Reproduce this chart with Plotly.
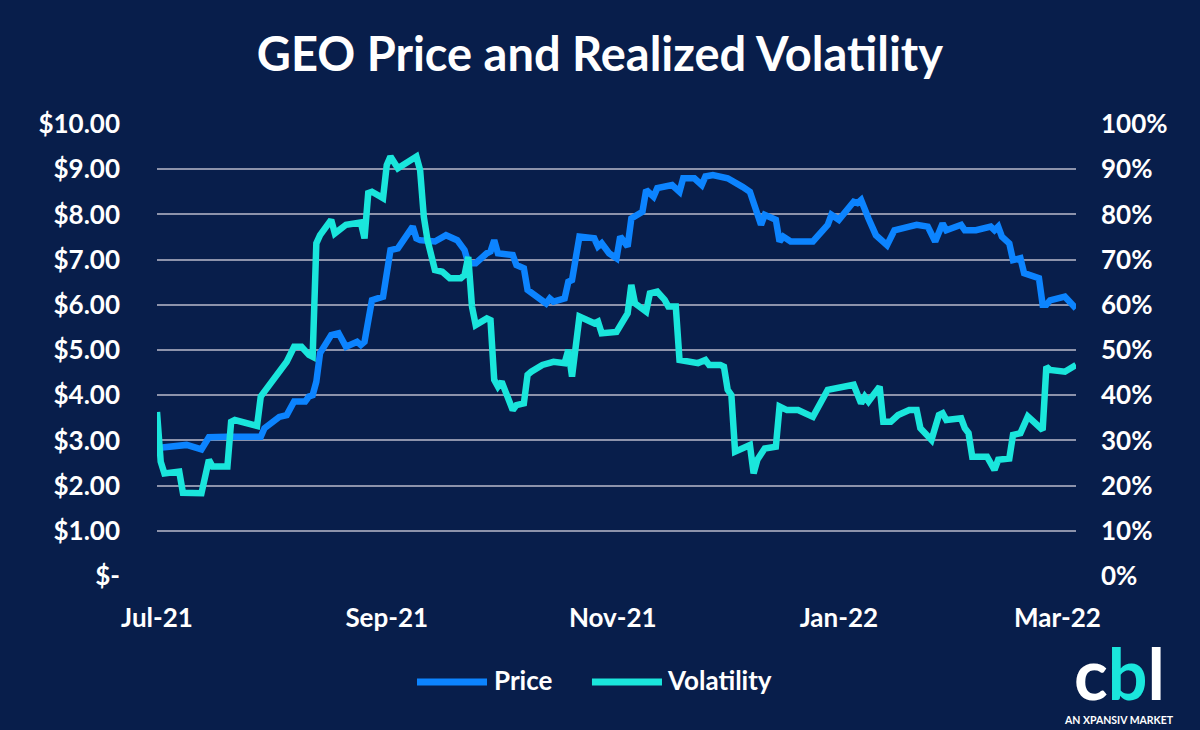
import plotly.graph_objects as go

price_dates = [
    "2021-07-01", "2021-07-09", "2021-07-13", "2021-07-15", "2021-07-20", "2021-07-29", "2021-07-30",
    "2021-08-03", "2021-08-05", "2021-08-07", "2021-08-10", "2021-08-11", "2021-08-12", "2021-08-13",
    "2021-08-14", "2021-08-17", "2021-08-19", "2021-08-21", "2021-08-24", "2021-08-25", "2021-08-26",
    "2021-08-28", "2021-08-31", "2021-09-02", "2021-09-04", "2021-09-08", "2021-09-09", "2021-09-10",
    "2021-09-14", "2021-09-17", "2021-09-20", "2021-09-22", "2021-09-23", "2021-09-25", "2021-09-28",
    "2021-09-29", "2021-09-30", "2021-10-01", "2021-10-05", "2021-10-06", "2021-10-08", "2021-10-09",
    "2021-10-14", "2021-10-15", "2021-10-16", "2021-10-19", "2021-10-20", "2021-10-21", "2021-10-23",
    "2021-10-27", "2021-10-28", "2021-10-29", "2021-10-31", "2021-11-02", "2021-11-03", "2021-11-05",
    "2021-11-06", "2021-11-09", "2021-11-10", "2021-11-12", "2021-11-13", "2021-11-17", "2021-11-19",
    "2021-11-20", "2021-11-23", "2021-11-25", "2021-11-26", "2021-11-28", "2021-12-02", "2021-12-03",
    "2021-12-06", "2021-12-08", "2021-12-10", "2021-12-11", "2021-12-12", "2021-12-15", "2021-12-16",
    "2021-12-17", "2021-12-19", "2021-12-25", "2021-12-29", "2021-12-30", "2022-01-01", "2022-01-05",
    "2022-01-06", "2022-01-07", "2022-01-09", "2022-01-11", "2022-01-14", "2022-01-16", "2022-01-20",
    "2022-01-22", "2022-01-25", "2022-01-27", "2022-01-29", "2022-01-30", "2022-02-03", "2022-02-04",
    "2022-02-07", "2022-02-11", "2022-02-12", "2022-02-13", "2022-02-14", "2022-02-16", "2022-02-17",
    "2022-02-19", "2022-02-20", "2022-02-24", "2022-02-25", "2022-02-26", "2022-02-27", "2022-03-03",
    "2022-03-06",
]
price = [
    2.83, 2.90, 2.80, 3.07, 3.08, 3.08, 3.27,
    3.52, 3.56, 3.86, 3.86, 3.97, 4.00, 4.30,
    4.93, 5.33, 5.37, 5.07, 5.18, 5.11, 5.18,
    6.10, 6.18, 7.21, 7.25, 7.73, 7.47, 7.43,
    7.40, 7.54, 7.43, 7.21, 6.92, 6.92, 7.14,
    7.18, 7.43, 7.14, 7.10, 6.88, 6.81, 6.33,
    6.03, 6.14, 6.07, 6.14, 6.51, 6.55, 7.51,
    7.47, 7.29, 7.36, 7.14, 7.03, 7.51, 7.29,
    7.91, 8.06, 8.54, 8.39, 8.58, 8.65, 8.50,
    8.80, 8.80, 8.65, 8.84, 8.87, 8.80, 8.76,
    8.61, 8.50, 7.99, 7.77, 7.99, 7.88, 7.40,
    7.51, 7.40, 7.40, 7.77, 7.99, 7.88, 8.28,
    8.25, 8.32, 7.91, 7.54, 7.32, 7.65, 7.73,
    7.77, 7.73, 7.40, 7.80, 7.65, 7.77, 7.65,
    7.65, 7.73, 7.65, 7.73, 7.51, 7.36, 6.99,
    7.03, 6.70, 6.59, 6.00, 6.00, 6.10, 6.18,
    5.92,
]

vol_dates = [
    "2021-07-01", "2021-07-02", "2021-07-03", "2021-07-07", "2021-07-08", "2021-07-13", "2021-07-15",
    "2021-07-16", "2021-07-20", "2021-07-21", "2021-07-22", "2021-07-28", "2021-07-29", "2021-07-30",
    "2021-08-03", "2021-08-04", "2021-08-05", "2021-08-07", "2021-08-09", "2021-08-11", "2021-08-12",
    "2021-08-13", "2021-08-14", "2021-08-17", "2021-08-18", "2021-08-21", "2021-08-25", "2021-08-26",
    "2021-08-27", "2021-08-28", "2021-08-31", "2021-09-01", "2021-09-02", "2021-09-04", "2021-09-09",
    "2021-09-10", "2021-09-11", "2021-09-12", "2021-09-14", "2021-09-16", "2021-09-18", "2021-09-21",
    "2021-09-22", "2021-09-23", "2021-09-24", "2021-09-25", "2021-09-28", "2021-09-29", "2021-09-30",
    "2021-10-01", "2021-10-02", "2021-10-05", "2021-10-06", "2021-10-08", "2021-10-09", "2021-10-10",
    "2021-10-13", "2021-10-16", "2021-10-19", "2021-10-20", "2021-10-21", "2021-10-23", "2021-10-27",
    "2021-10-28", "2021-10-29", "2021-11-02", "2021-11-04", "2021-11-05", "2021-11-06", "2021-11-07",
    "2021-11-10", "2021-11-11", "2021-11-13", "2021-11-15", "2021-11-16", "2021-11-18", "2021-11-19",
    "2021-11-21", "2021-11-24", "2021-11-26", "2021-11-27", "2021-11-30", "2021-12-01", "2021-12-02",
    "2021-12-03", "2021-12-04", "2021-12-08", "2021-12-09", "2021-12-10", "2021-12-12", "2021-12-15",
    "2021-12-16", "2021-12-18", "2021-12-21", "2021-12-25", "2021-12-29", "2021-12-31", "2022-01-05",
    "2022-01-07", "2022-01-08", "2022-01-09", "2022-01-12", "2022-01-13", "2022-01-15", "2022-01-17",
    "2022-01-20", "2022-01-22", "2022-01-23", "2022-01-26", "2022-01-28", "2022-01-29", "2022-01-30",
    "2022-02-03", "2022-02-04", "2022-02-05", "2022-02-06", "2022-02-10", "2022-02-12", "2022-02-13",
    "2022-02-16", "2022-02-17", "2022-02-19", "2022-02-21", "2022-02-25", "2022-02-26", "2022-02-27",
    "2022-03-03", "2022-03-06",
]
volatility = [
    0.363, 0.253, 0.227, 0.231, 0.184, 0.183, 0.257,
    0.242, 0.242, 0.341, 0.345, 0.332, 0.397, 0.408,
    0.456, 0.467, 0.474, 0.507, 0.507, 0.489, 0.485,
    0.736, 0.754, 0.788, 0.758, 0.777, 0.782, 0.747,
    0.847, 0.850, 0.836, 0.909, 0.928, 0.902, 0.928,
    0.898, 0.795, 0.743, 0.677, 0.673, 0.659, 0.659,
    0.666, 0.706, 0.596, 0.555, 0.570, 0.566, 0.434,
    0.419, 0.430, 0.367, 0.378, 0.382, 0.445, 0.452,
    0.467, 0.474, 0.471, 0.500, 0.441, 0.574, 0.559,
    0.563, 0.537, 0.540, 0.570, 0.581, 0.644, 0.603,
    0.585, 0.625, 0.629, 0.611, 0.596, 0.596, 0.478,
    0.474, 0.471, 0.478, 0.467, 0.467, 0.463, 0.412,
    0.400, 0.275, 0.290, 0.227, 0.257, 0.282, 0.286,
    0.375, 0.367, 0.367, 0.352, 0.412, 0.415, 0.423,
    0.382, 0.397, 0.386, 0.419, 0.341, 0.341, 0.356,
    0.367, 0.367, 0.327, 0.301, 0.356, 0.360, 0.345,
    0.349, 0.327, 0.316, 0.264, 0.264, 0.235, 0.257,
    0.260, 0.312, 0.316, 0.353, 0.323, 0.463, 0.456,
    0.452, 0.467,
]

price_ticks = [0, 1, 2, 3, 4, 5, 6, 7, 8, 9, 10]
price_tick_text = ["$-", "$1.00", "$2.00", "$3.00", "$4.00", "$5.00", "$6.00", "$7.00", "$8.00", "$9.00", "$10.00"]
vol_ticks = [0, 0.1, 0.2, 0.3, 0.4, 0.5, 0.6, 0.7, 0.8, 0.9, 1.0]
vol_tick_text = ["0%", "10%", "20%", "30%", "40%", "50%", "60%", "70%", "80%", "90%", "100%"]
x_ticks = ["2021-07-01", "2021-09-01", "2021-11-01", "2022-01-01", "2022-03-01"]
x_tick_text = ["Jul-21", "Sep-21", "Nov-21", "Jan-22", "Mar-22"]
series_names = ["Price", "Volatility"]

BG = "#081e4b"
BLUE = "#0c84ff"
CYAN = "#1ae6dc"
FONT = "Lato"
TICKFONT = dict(size=26, color="white", family=FONT, weight="bold")

fig = go.Figure()
fig.add_trace(go.Scatter(x=price_dates, y=price, name=series_names[0], mode="lines",
                         line=dict(color=BLUE, width=6.5), yaxis="y", showlegend=False))
fig.add_trace(go.Scatter(x=vol_dates, y=volatility, name=series_names[1], mode="lines",
                         line=dict(color=CYAN, width=6.5), yaxis="y2", showlegend=False))

fig.update_layout(
    width=1200, height=730,
    paper_bgcolor=BG, plot_bgcolor=BG,
    margin=dict(l=157, r=124, t=124, b=154),
    font=dict(family=FONT, color="white", size=22, weight="bold"),
    title=dict(text="GEO Price and Realized Volatility", x=0.5, xanchor="center",
               y=1 - 55 / 730, yanchor="middle",
               font=dict(family=FONT, size=47, color="white", weight="bold")),
    xaxis=dict(type="date", range=["2021-07-01", "2022-03-06"],
               tickvals=x_ticks, ticktext=x_tick_text, showgrid=False,
               zeroline=False, showline=False, ticks="", ticklabelstandoff=24,
               tickfont=TICKFONT),
    yaxis=dict(range=[0, 10], tickvals=price_ticks, ticktext=price_tick_text,
               showgrid=True, gridcolor="#8d93ab", gridwidth=2, zeroline=False,
               showline=False, ticks="", ticklabelstandoff=36, tickfont=TICKFONT),
    yaxis2=dict(range=[0, 1], tickvals=vol_ticks, ticktext=vol_tick_text,
                overlaying="y", side="right", showgrid=False, zeroline=False,
                showline=False, ticks="", ticklabelstandoff=24, tickfont=TICKFONT),
    showlegend=False,
)

# legend drawn with long line samples, as in the reference
legend_items = [
    (series_names[0], BLUE, 0.2829, 0.3591, 0.3645),
    (series_names[1], CYAN, 0.4733, 0.5495, 0.5528),
]
leg_y = -0.2345
for name, color, x0, x1, xt in legend_items:
    fig.add_shape(type="line", xref="paper", yref="paper", x0=x0, x1=x1, y0=leg_y, y1=leg_y,
                  line=dict(color=color, width=7))
    fig.add_annotation(xref="paper", yref="paper", x=xt, y=leg_y + 0.005, xanchor="left",
                       yanchor="middle", text=name, showarrow=False,
                       font=dict(family=FONT, size=26, color="white", weight="bold"))

fig.add_annotation(xref="paper", yref="paper", x=1.0468, y=-0.2146, xanchor="center", yanchor="middle",
                   text="c<span style='color:#1ae6dc'>b</span>l", showarrow=False,
                   font=dict(family=FONT, size=70, color="white", weight="bold"))
fig.add_annotation(xref="paper", yref="paper", x=1.0468, y=-0.3186, xanchor="center", yanchor="middle",
                   text="AN XPANSIV MARKET", showarrow=False,
                   font=dict(family=FONT, size=10.5, color="white", weight="bold"))

fig.write_html("out.html")
